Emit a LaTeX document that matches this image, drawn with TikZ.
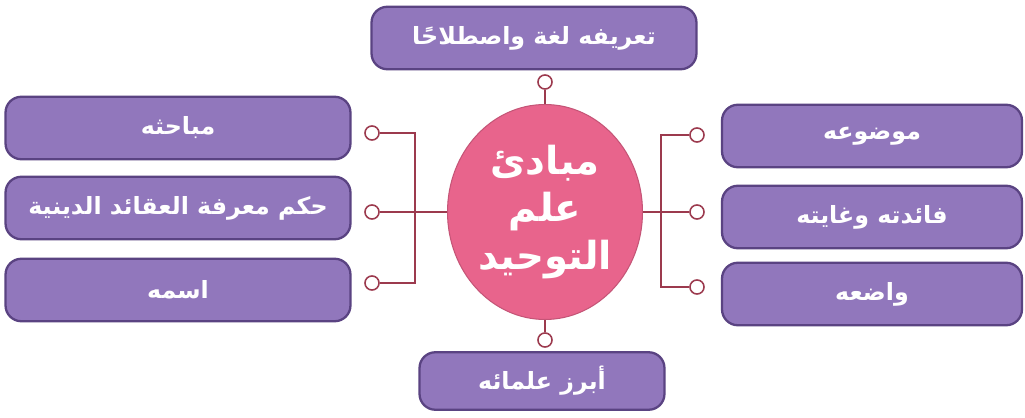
\documentclass[tikz,border=0pt]{standalone}
\usepackage{fontspec}
\usetikzlibrary{shapes.geometric}
\newfontfamily\arabicfont[Script=Arabic]{DejaVu Sans}
\TeXXeTstate=1
\definecolor{boxfill}{HTML}{9177BC}
\definecolor{boxedge}{HTML}{5A4382}
\definecolor{hubfill}{HTML}{E8648C}
\definecolor{wirered}{HTML}{9C3A4E}
\tikzset{
  topic/.style={draw=boxedge, line width=1.3pt, fill=boxfill, rounded corners=9pt,
    text=white, font=\arabicfont\bfseries\fontsize{13.5}{15}\selectfont,
    minimum height=1.25cm, inner sep=0pt},
  hubnode/.style={ellipse, fill=hubfill, draw=hubfill!85!black, line width=0.6pt,
    minimum width=3.9cm, minimum height=4.3cm, inner sep=0pt, text=white, align=center,
    font=\arabicfont\bfseries\fontsize{22}{27}\selectfont},
  pin/.style={circle, draw=wirered, line width=0.9pt, fill=white, inner sep=0pt,
    minimum size=8pt},
  wire/.style={draw=wirered, line width=0.9pt}
}
\begin{document}
\begin{tikzpicture}[x=0.02cm, y=-0.02cm]
\useasboundingbox (0,0) rectangle (1025,418);
\fill[white] (0,0) rectangle (1025,418);
\node[hubnode] (hub) at (545,212) {\beginR مبادئ\endR\\\beginR علم\endR\\\beginR التوحيد\endR};
\node[topic, minimum width=6.5cm] (def) at (534,38) {\beginR تعريفه لغة واصطلاحًا\endR};
\node[topic, minimum width=4.9cm, minimum height=1.15cm] (scholars) at (542,381) {\beginR أبرز علمائه\endR};
\node[topic, minimum width=6.9cm] (topics) at (178,128) {\beginR مباحثه\endR};
\node[topic, minimum width=6.9cm] (ruling) at (178,208) {\beginR حكم معرفة العقائد الدينية\endR};
\node[topic, minimum width=6.9cm] (name) at (178,290) {\beginR اسمه\endR};
\node[topic, minimum width=6.0cm] (subject) at (872,136) {\beginR موضوعه\endR};
\node[topic, minimum width=6.0cm] (benefit) at (872,217) {\beginR فائدته وغايته\endR};
\node[topic, minimum width=6.0cm] (founder) at (872,294) {\beginR واضعه\endR};
\foreach \y [count=\i] in {133,212,283} {\node[pin] (lp\i) at (372,\y) {};}
\foreach \y [count=\i] in {135,212,287} {\node[pin] (rp\i) at (697,\y) {};}
\node[pin] (tp) at (545,82) {};
\node[pin] (bp) at (545,340) {};
\coordinate (lj) at (415,212);
\coordinate (rj) at (661,212);
\draw[wire] (lp1) -| (lj) |- (lp3);
\draw[wire] (lp2) -- (hub);
\draw[wire] (rp1) -| (rj) |- (rp3);
\draw[wire] (rp2) -- (hub);
\draw[wire] (tp) -- (hub);
\draw[wire] (bp) -- (hub);
\end{tikzpicture}
\end{document}
